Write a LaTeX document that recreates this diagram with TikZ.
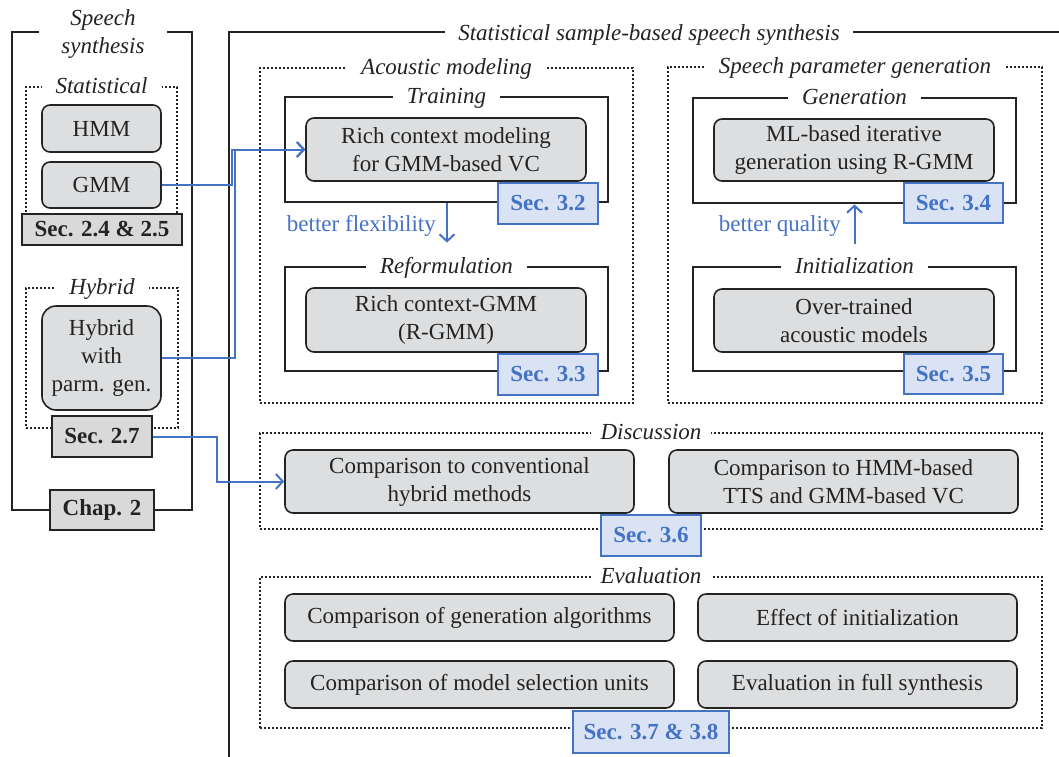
\documentclass[tikz,border=0pt]{standalone}
\usepackage{fontspec}
\setmainfont{Liberation Serif}
\usetikzlibrary{arrows.meta,calc}
\definecolor{boxgray}{RGB}{221,222,224}
\definecolor{secgray}{RGB}{217,217,217}
\definecolor{secblue}{RGB}{218,227,243}
\definecolor{linkblue}{RGB}{68,114,196}
\definecolor{ink}{RGB}{35,35,35}
\newcommand{\mainsize}{\fontsize{23}{28}\selectfont}
\begin{document}
\begin{tikzpicture}[x=1pt,y=-1pt,
  every node/.style={font=\mainsize, text=ink},
  frame/.style={draw=ink, line width=2.8pt, inner sep=0pt},
  dotframe/.style={draw=ink, line width=2.3pt, dash pattern=on 2.1pt off 1.9pt, inner sep=0pt},
  ttl/.style={fill=white, inner xsep=14pt, inner ysep=1pt, anchor=base, yshift=-8pt, font=\mainsize\itshape},
  topic/.style={draw=ink, fill=boxgray, rounded corners=8pt, line width=1.6pt, align=center, inner sep=0pt},
  secg/.style={draw=ink, fill=secgray, line width=1.6pt, inner sep=0pt, font=\mainsize\bfseries},
  secb/.style={draw=linkblue, fill=secblue, line width=1.6pt, inner sep=0pt, text=linkblue, font=\mainsize\bfseries},
  link/.style={draw=linkblue, line width=2pt, -{Straight Barb[length=7pt,width=15pt,line width=2pt]}},
  note/.style={text=linkblue, inner sep=0pt}]
\useasboundingbox (0,0) rectangle (1059,756);

% ---------- frames ----------
\node[frame, minimum width=180, minimum height=478] (leftframe) at (102,271) {};
\node[dotframe, minimum width=151, minimum height=143] (statdot) at (101.5,158.5) {};
\node[dotframe, minimum width=152, minimum height=140] (hybdot) at (102,358) {};

\draw[draw=ink, line width=2.8pt] (1062,32) -- (229,32) -- (229,760);

\node[dotframe, minimum width=373, minimum height=335] (acoustic) at (446.5,235.5) {};
\node[frame, minimum width=323, minimum height=105] (training) at (446.5,149.5) {};
\node[frame, minimum width=323, minimum height=104] (reform) at (446.5,319) {};

\node[dotframe, minimum width=374, minimum height=336] (spg) at (855,235) {};
\node[frame, minimum width=323, minimum height=105] (gen) at (854.5,150.5) {};
\node[frame, minimum width=323, minimum height=104] (init) at (854.5,319) {};

\node[dotframe, minimum width=782, minimum height=96] (disc) at (651,481) {};
\node[dotframe, minimum width=782, minimum height=151] (eval) at (651,652.5) {};

% ---------- frame titles ----------
\node[fill=white, inner xsep=22pt, inner ysep=1pt, align=center, font=\mainsize\itshape] (tspeech) at (103,33.5) {Speech\\synthesis};
\node[ttl] (tstat) at (statdot.north) {Statistical};
\node[ttl] (thyb) at (hybdot.north) {Hybrid};
\node[ttl, inner xsep=13pt] (tmain) at (649,32) {Statistical sample-based speech synthesis};
\node[ttl] (tacou) at (acoustic.north) {Acoustic modeling};
\node[ttl] (ttrain) at (training.north) {Training};
\node[ttl] (treform) at (reform.north) {Reformulation};
\node[ttl] (tspg) at (spg.north) {Speech parameter generation};
\node[ttl] (tgen) at (gen.north) {Generation};
\node[ttl] (tinit) at (init.north) {Initialization};
\node[ttl, inner xsep=10pt] (tdisc) at (disc.north) {Discussion};
\node[ttl, inner xsep=10pt] (teval) at (eval.north) {Evaluation};

% ---------- left column ----------
\node[topic, minimum width=119, minimum height=47] (hmm) at (101.5,128.5) {HMM};
\node[topic, minimum width=119, minimum height=46] (gmm) at (101.5,185) {GMM};
\node[secg, minimum width=160, minimum height=31] (s24) at (102,229.5) {Sec. 2.4 \& 2.5};
\node[topic, minimum width=119, minimum height=104, rounded corners=14pt] (hyb) at (101.5,358) {Hybrid\\with\\parm. gen.};
\node[secg, minimum width=100, minimum height=41] (s27) at (102,436.5) {Sec. 2.7};
\node[secg, minimum width=104, minimum height=40] (chap) at (102,510) {Chap. 2};

% ---------- acoustic modeling ----------
\node[topic, minimum width=280, minimum height=63] (rich) at (446,149.5) {Rich context modeling\\for GMM-based VC};
\node[secb, minimum width=100, minimum height=41] (s32) at (548,203.5) {Sec. 3.2};
\node[topic, minimum width=280, minimum height=64] (rgmm) at (446,320) {Rich context-GMM\\(R-GMM)};
\node[secb, minimum width=100, minimum height=41] (s33) at (548,374.5) {Sec. 3.3};
\coordinate (flexend) at ($(reform.north)+(0.5,-23)$);
\draw[link] (training.south -| flexend) -- (flexend);
\node[note, anchor=east] (flex) at (436,226) {better flexibility};

% ---------- speech parameter generation ----------
\node[topic, minimum width=280, minimum height=62] (ml) at (854,150) {ML-based iterative\\generation using R-GMM};
\node[secb, minimum width=99, minimum height=40] (s34) at (953.5,203) {Sec. 3.4};
\node[topic, minimum width=280, minimum height=63] (over) at (854,320.5) {Over-trained\\acoustic models};
\node[secb, minimum width=99, minimum height=40] (s35) at (953.5,374) {Sec. 3.5};
\coordinate (qualstart) at ($(init.north)+(0,-22)$);
\draw[link] (qualstart) -- (gen.south -| qualstart);
\node[note, anchor=east] (qual) at (841,226) {better quality};

% ---------- discussion ----------
\node[topic, minimum width=349, minimum height=63] (conv) at (459.5,481.5) {Comparison to conventional\\hybrid methods};
\node[topic, minimum width=349, minimum height=63] (tts) at (843.5,481.5) {Comparison to HMM-based\\TTS and GMM-based VC};
\node[secb, minimum width=100, minimum height=41] (s36) at (651,535.5) {Sec. 3.6};

% ---------- evaluation ----------
\node[topic, minimum width=389, minimum height=47] (e1) at (479.5,617.5) {Comparison of generation algorithms};
\node[topic, minimum width=319, minimum height=47] (e2) at (857.5,617.5) {Effect of initialization};
\node[topic, minimum width=389, minimum height=47] (e3) at (479.5,684.5) {Comparison of model selection units};
\node[topic, minimum width=319, minimum height=47] (e4) at (857.5,684.5) {Evaluation in full synthesis};
\node[secb, minimum width=156, minimum height=42] (s378) at (651,732) {Sec. 3.7 \& 3.8};

% ---------- cross links ----------
\draw[link] (gmm.east) -| ($(rich.west)+(-73,0)$) -- (rich.west);
\draw[link] (hyb.east) -| ($(rich.west)+(-70,0)$) -- (rich.west);
\draw[link] (s27.east) -| ($(conv.west)+(-67,0)$) -- (conv.west);
\end{tikzpicture}
\end{document}
